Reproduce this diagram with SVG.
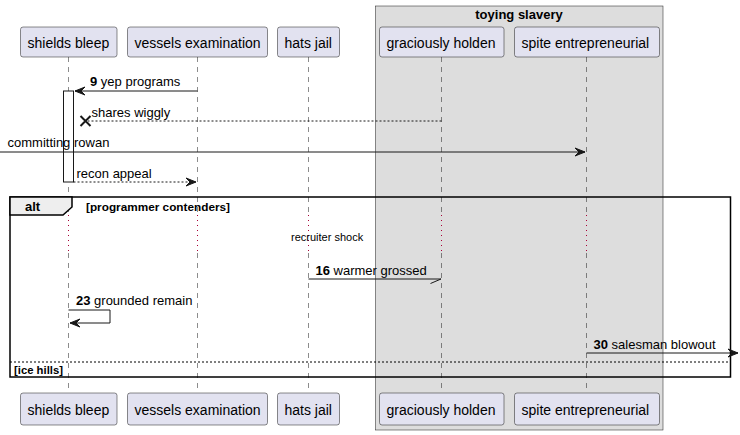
<svg xmlns="http://www.w3.org/2000/svg" width="740" height="435" viewBox="0 0 740 435">
<style>
.p{fill:#E2E2F0;stroke:#181818;stroke-width:0.5}
.pt{font-family:"Liberation Sans",Arial,sans-serif;font-size:14px;fill:#000}
.life{stroke:#181818;stroke-width:0.5;stroke-dasharray:5,5;fill:none}
.delay{stroke:#A80036;stroke-width:1;stroke-dasharray:1,4;fill:none}
.msg{stroke:#181818;stroke-width:1;fill:none}
.dash{stroke-dasharray:2,2}
.mt{font-family:"Liberation Sans",Arial,sans-serif;font-size:13px;fill:#000}
.b{font-weight:bold}
.st{font-family:"Liberation Sans",Arial,sans-serif;font-size:11px;fill:#000}
.ah{fill:#181818;stroke:#181818;stroke-width:1}
</style>
<g id="box-toying-slavery">
<rect x="375.5" y="6" width="287.5" height="424" fill="#DDDDDD" stroke="#181818" stroke-width="0.5"/>
<text x="519" y="19" text-anchor="middle" class="mt b">toying slavery</text>
</g>
<g id="lifelines">
<path class="life" d="M68.5,57V215M68.5,253V393M197.5,57V215M197.5,253V393M308.5,57V215M308.5,253V393M441.5,57V215M441.5,253V393M586.5,57V215M586.5,253V393"/>
<path class="delay" d="M68.5,215V253M197.5,215V253M308.5,215V253M441.5,215V253M586.5,215V253"/>
</g>
<g id="shields-bleep">
<rect class="p" x="20.5" y="27" width="96.5" height="30" rx="2.5"/>
<text class="pt" x="27.5" y="47.5">shields bleep</text>
<rect class="p" x="20.5" y="393" width="96.5" height="32" rx="2.5"/>
<text class="pt" x="27.5" y="415">shields bleep</text>
<rect x="63.5" y="91" width="10" height="91" fill="#FFFFFF" stroke="#181818" stroke-width="1"/>
</g>
<g id="vessels-examination">
<rect class="p" x="127.5" y="27" width="140" height="30" rx="2.5"/>
<text class="pt" x="134.5" y="47.5">vessels examination</text>
<rect class="p" x="127.5" y="393" width="140" height="32" rx="2.5"/>
<text class="pt" x="134.5" y="415">vessels examination</text>
</g>
<g id="hats-jail">
<rect class="p" x="277.5" y="27" width="62" height="30" rx="2.5"/>
<text class="pt" x="284.5" y="47.5">hats jail</text>
<rect class="p" x="277.5" y="393" width="62" height="32" rx="2.5"/>
<text class="pt" x="284.5" y="415">hats jail</text>
</g>
<g id="graciously-holden">
<rect class="p" x="379.5" y="27" width="124.5" height="30" rx="2.5"/>
<text class="pt" x="386.5" y="47.5">graciously holden</text>
<rect class="p" x="379.5" y="393" width="124.5" height="32" rx="2.5"/>
<text class="pt" x="386.5" y="415">graciously holden</text>
</g>
<g id="spite-entrepreneurial">
<rect class="p" x="514.5" y="27" width="145" height="30" rx="2.5"/>
<text class="pt" x="521.5" y="47.5">spite entrepreneurial</text>
<rect class="p" x="514.5" y="393" width="145" height="32" rx="2.5"/>
<text class="pt" x="521.5" y="415">spite entrepreneurial</text>
</g>
<g id="alt-frame">
<rect x="10" y="197" width="720.5" height="180" fill="none" stroke="#000" stroke-width="1.5"/>
<polygon points="10,197 72,197 72,207 63,215 10,215" fill="#EEEEEE" stroke="#000" stroke-width="1.5"/>
<text x="25" y="211" class="mt b">alt</text>
<text x="86" y="211" class="st b" textLength="144" lengthAdjust="spacingAndGlyphs">[programmer contenders]</text>
<line x1="10" y1="362" x2="730.5" y2="362" stroke="#000" stroke-width="1" stroke-dasharray="2,2"/>
<text x="14" y="374" class="st b" textLength="49" lengthAdjust="spacingAndGlyphs">[ice hills]</text>
<text x="291" y="241" class="st">recruiter shock</text>
</g>
<g id="connectors">
<line class="msg" x1="197.5" y1="91" x2="75" y2="91"/>
<polygon class="ah" points="85,87 75,91 85,95 81,91"/>
<text x="90" y="86" class="mt"><tspan class="b">9</tspan> yep programs</text>

<line class="msg dash" x1="441.5" y1="121" x2="88" y2="121"/>
<path d="M80.5,116L90.5,126M80.5,126L90.5,116" stroke="#181818" stroke-width="2" fill="none"/>
<text x="91.5" y="117" class="mt">shares wiggly</text>

<line class="msg" x1="0" y1="152" x2="585" y2="152"/>
<polygon class="ah" points="575,148 585,152 575,156 579,152"/>
<text x="7.5" y="147" class="mt">committing rowan</text>

<line class="msg dash" x1="73.5" y1="182" x2="196" y2="182"/>
<polygon class="ah" points="186,178 196,182 186,186 190,182"/>
<text x="76.5" y="178" class="mt">recon appeal</text>

<line class="msg" x1="308.5" y1="279" x2="441" y2="279"/>
<line class="msg" x1="441" y1="279" x2="430.5" y2="283.5"/>
<text x="315.5" y="275" class="mt"><tspan class="b">16</tspan> warmer grossed</text>

<polyline class="msg" points="68.5,310 110,310 110,323 70,323"/>
<polygon class="ah" points="80,319 70,323 80,327 76,323"/>
<text x="76" y="305" class="mt"><tspan class="b">23</tspan> grounded remain</text>

<line class="msg" x1="586.5" y1="353" x2="738" y2="353"/>
<polygon class="ah" points="728,349 738,353 728,357 732,353"/>
<text x="593.5" y="349" class="mt"><tspan class="b">30</tspan> salesman blowout</text>
</g>
</svg>
